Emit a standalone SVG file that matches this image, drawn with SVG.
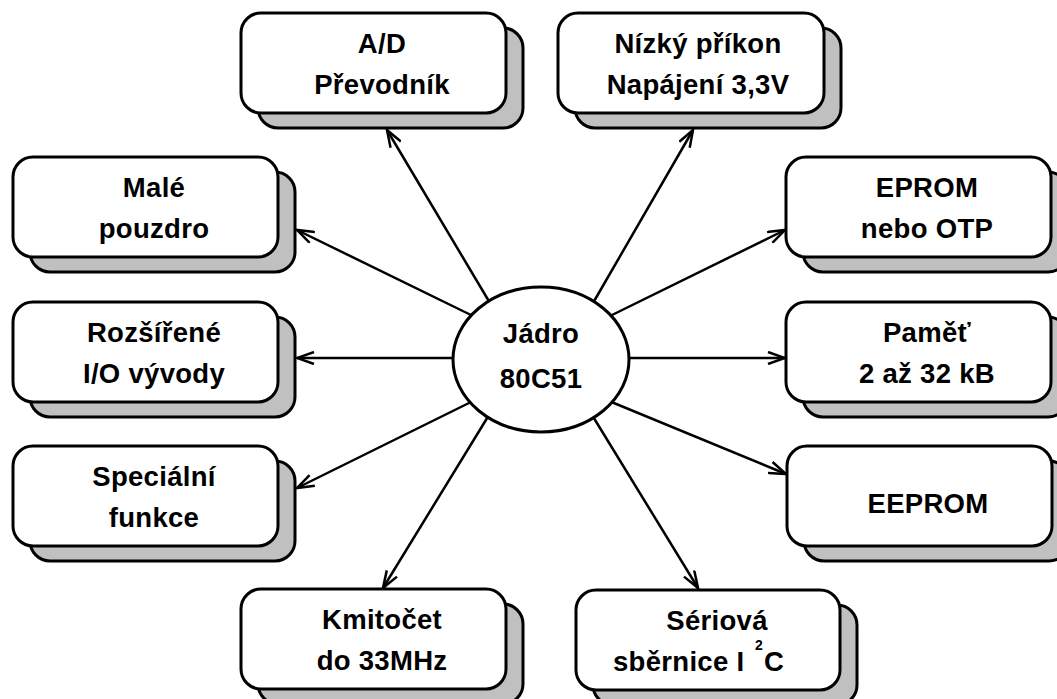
<svg xmlns="http://www.w3.org/2000/svg" width="1057" height="699" viewBox="0 0 1057 699">
<style>
.sh{fill:#c0c0c0;stroke:#000;stroke-width:3}
.bx{fill:#fff;stroke:#000;stroke-width:3}
.t{font-family:"Liberation Sans",Arial,sans-serif;font-weight:bold;font-size:27.5px;letter-spacing:0.3px;text-anchor:middle;fill:#000}
.c line{stroke:#000;stroke-width:2.5;marker-end:url(#ah)}
</style>
<defs>
<marker id="ah" markerUnits="userSpaceOnUse" markerWidth="20" markerHeight="14" viewBox="0 0 20 14" refX="18" refY="7" orient="auto">
<path d="M1,1 L18,7 L1,13" fill="none" stroke="#000" stroke-width="2.5"/>
</marker>
</defs>
<rect width="1057" height="699" fill="#fff"/>
<g id="connectors" class="c">
<line x1="490" y1="303" x2="387" y2="130"/>
<line x1="593" y1="303" x2="693" y2="130"/>
<line x1="473" y1="316" x2="297" y2="230"/>
<line x1="456" y1="358" x2="297" y2="358"/>
<line x1="473" y1="401" x2="297" y2="488"/>
<line x1="489" y1="415" x2="383" y2="588"/>
<line x1="610" y1="316" x2="785" y2="230"/>
<line x1="626" y1="358" x2="785" y2="358"/>
<line x1="609" y1="401" x2="786" y2="474"/>
<line x1="592" y1="415" x2="698" y2="588"/>
</g>
<g id="core">
<ellipse cx="541" cy="359.5" rx="88" ry="72.5" class="bx"/>
<text class="t" x="541" y="343">Jádro</text>
<text class="t" x="541" y="388">80C51</text>
</g>
<g id="ad">
<rect x="258" y="28" width="265" height="100" rx="20" class="sh"/>
<rect x="241" y="13" width="265" height="100" rx="20" class="bx"/>
<text class="t" x="382" y="53">A/D</text>
<text class="t" x="382" y="94">Převodník</text>
</g>
<g id="nizky">
<rect x="575" y="28" width="266" height="100" rx="20" class="sh"/>
<rect x="558" y="13" width="266" height="100" rx="20" class="bx"/>
<text class="t" x="698" y="53">Nízký příkon</text>
<text class="t" x="698" y="94">Napájení 3,3V</text>
</g>
<g id="male">
<rect x="30" y="172" width="265" height="100" rx="20" class="sh"/>
<rect x="13" y="157" width="265" height="100" rx="20" class="bx"/>
<text class="t" x="154" y="197">Malé</text>
<text class="t" x="154" y="238">pouzdro</text>
</g>
<g id="rozsirene">
<rect x="30" y="317" width="265" height="100" rx="20" class="sh"/>
<rect x="13" y="302" width="265" height="100" rx="20" class="bx"/>
<text class="t" x="154" y="342">Rozšířené</text>
<text class="t" x="154" y="383">I/O vývody</text>
</g>
<g id="specialni">
<rect x="30" y="461" width="265" height="100" rx="20" class="sh"/>
<rect x="13" y="446" width="265" height="100" rx="20" class="bx"/>
<text class="t" x="154" y="486">Speciální</text>
<text class="t" x="154" y="527">funkce</text>
</g>
<g id="eprom">
<rect x="803" y="172" width="265" height="100" rx="20" class="sh"/>
<rect x="786" y="157" width="265" height="100" rx="20" class="bx"/>
<text class="t" x="927" y="197">EPROM</text>
<text class="t" x="927" y="238">nebo OTP</text>
</g>
<g id="pamet">
<rect x="803" y="317" width="265" height="100" rx="20" class="sh"/>
<rect x="786" y="302" width="265" height="100" rx="20" class="bx"/>
<text class="t" x="927" y="342">Paměť</text>
<text class="t" x="927" y="383">2 až 32 kB</text>
</g>
<g id="eeprom">
<rect x="804" y="461" width="265" height="100" rx="20" class="sh"/>
<rect x="787" y="446" width="265" height="100" rx="20" class="bx"/>
<text class="t" x="928" y="513">EEPROM</text>
</g>
<g id="kmitocet">
<rect x="258" y="604" width="265" height="100" rx="20" class="sh"/>
<rect x="241" y="589" width="265" height="100" rx="20" class="bx"/>
<text class="t" x="382" y="629">Kmitočet</text>
<text class="t" x="382" y="670">do 33MHz</text>
</g>
<g id="seriova">
<rect x="593" y="605" width="264" height="100" rx="20" class="sh"/>
<rect x="576" y="590" width="264" height="100" rx="20" class="bx"/>
<text class="t" x="717" y="630">Sériová</text>
<text class="t" style="text-anchor:start"><tspan x="613" y="671">sběrnice I</tspan><tspan x="755" y="650" style="font-size:14px;letter-spacing:0">2</tspan><tspan x="764" y="671">C</tspan></text>
</g>
</svg>
